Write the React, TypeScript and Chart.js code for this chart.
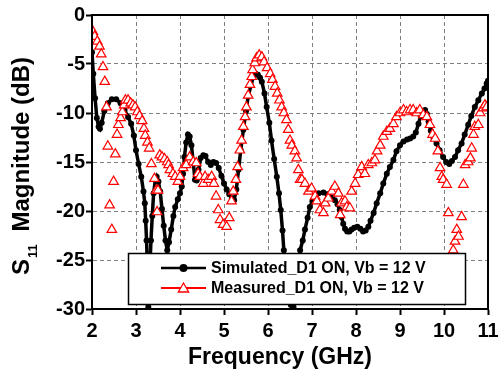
import React, { useEffect, useRef } from 'react';
import { Chart, registerables } from 'chart.js';

Chart.register(...registerables);

// ---- Data ----
const xTickValues = [2, 3, 4, 5, 6, 7, 8, 9, 10, 11];
const yTickValues = [-30, -25, -20, -15, -10, -5, 0];

const simFreq = [
  2.0, 2.03, 2.07, 2.11, 2.15, 2.18, 2.22, 2.28, 2.36, 2.45, 2.55, 2.65, 2.74, 2.82, 2.89, 2.95,
  3.0, 3.06, 3.12, 3.17, 3.2, 3.22, 3.24, 3.26, 3.28, 3.31, 3.34, 3.37, 3.4, 3.44, 3.47, 3.51,
  3.55, 3.59, 3.63, 3.67, 3.71, 3.75, 3.8, 3.85, 3.89, 3.95, 4.0, 4.04, 4.07, 4.1, 4.14, 4.18,
  4.22, 4.26, 4.3, 4.34, 4.38, 4.42, 4.47, 4.53, 4.58, 4.64, 4.7, 4.76, 4.82, 4.88, 4.94, 5.0,
  5.06, 5.12, 5.18, 5.23, 5.28, 5.33, 5.38, 5.44, 5.5, 5.55, 5.61, 5.67, 5.72, 5.77, 5.82, 5.86,
  5.92, 5.97, 6.03, 6.08, 6.14, 6.2, 6.25, 6.29, 6.33, 6.36, 6.4, 6.45, 6.52, 6.58, 6.63, 6.68,
  6.73, 6.79, 6.84, 6.9, 6.95, 7.01, 7.07, 7.15, 7.26, 7.35, 7.45, 7.52, 7.58, 7.63, 7.67, 7.71,
  7.75, 7.8, 7.85, 7.9, 7.96, 8.03, 8.1, 8.16, 8.22, 8.28, 8.33, 8.4, 8.47, 8.55, 8.62, 8.7,
  8.77, 8.85, 8.92, 9.0, 9.08, 9.16, 9.23, 9.3, 9.36, 9.42, 9.47, 9.52, 9.57, 9.61, 9.65, 9.7,
  9.76, 9.83, 9.9, 9.98, 10.05, 10.12, 10.18, 10.25, 10.32, 10.4, 10.47, 10.55, 10.62, 10.7, 10.78, 10.86,
  10.92, 10.97, 11.0,
];
const simDb = [
  -3.8, -6.0, -8.5, -10.5, -11.4, -11.6, -11.0, -9.8, -9.0, -8.6, -8.6, -9.0, -9.7, -10.4, -11.1, -12.3,
  -13.8, -15.2, -16.5, -18.0, -19.2, -21.0, -23.0, -26.0, -29.8, -26.5, -23.0, -20.5, -18.2, -16.8, -16.5, -17.0,
  -18.0, -19.8, -21.5, -23.0, -24.0, -23.2, -21.9, -20.5, -19.6, -18.8, -18.2, -17.5, -16.2, -14.5, -13.0, -12.2,
  -12.4, -13.3, -15.0, -16.8, -16.9, -15.8, -14.6, -14.3, -14.4, -15.0, -15.3, -15.0, -15.1, -15.6, -16.4, -17.2,
  -17.8, -18.3, -18.7, -18.9, -17.8, -15.8, -13.8, -11.7, -9.8, -8.3, -7.2, -6.3, -6.0, -6.1, -6.4, -6.8,
  -8.0, -9.4, -11.0, -12.8, -14.7, -16.5, -18.2, -19.9, -22.0, -24.0, -26.0, -28.0, -29.6, -29.8, -28.5, -26.0,
  -24.0, -23.0, -21.9, -20.7, -19.6, -19.0, -18.5, -18.2, -18.1, -18.3, -18.6, -18.9, -19.3, -19.9, -20.6, -21.3,
  -21.8, -22.1, -22.1, -21.9, -21.7, -21.6, -21.8, -22.1, -22.0, -21.6, -21.0, -20.2, -19.2, -18.2, -17.2, -16.2,
  -15.5, -14.8, -13.9, -13.3, -12.9, -12.7, -12.6, -12.4, -12.0, -11.1, -10.3, -9.8, -9.7, -10.1, -10.9, -11.8,
  -12.5, -13.1, -13.8, -14.5, -15.0, -15.2, -14.9, -14.5, -13.8, -13.1, -12.2, -11.2, -10.3, -9.4, -8.7, -8.0,
  -7.5, -7.0, -6.7,
];

const measFreq = [
  2.02, 2.06, 2.12, 2.17, 2.21, 2.25, 2.29, 2.33, 2.36, 2.4, 2.45, 2.49, 2.53, 2.57, 2.6, 2.65,
  2.69, 2.73, 2.76, 2.82, 2.88, 2.93, 2.98, 3.03, 3.08, 3.14, 3.18, 3.21, 3.26, 3.3, 3.35, 3.42,
  3.46, 3.48, 3.5, 3.54, 3.59, 3.65, 3.71, 3.74, 3.77, 3.84, 3.89, 3.95, 4.0, 4.07, 4.14, 4.22,
  4.3, 4.37, 4.41, 4.45, 4.53, 4.57, 4.64, 4.72, 4.77, 4.82, 4.87, 4.91, 4.98, 5.06, 5.12, 5.17,
  5.21, 5.27, 5.31, 5.36, 5.4, 5.44, 5.48, 5.51, 5.55, 5.59, 5.63, 5.65, 5.7, 5.74, 5.8, 5.86,
  5.91, 5.98, 6.05, 6.1, 6.16, 6.21, 6.26, 6.31, 6.36, 6.42, 6.46, 6.5, 6.54, 6.61, 6.65, 6.69,
  6.73, 6.77, 6.84, 6.92, 6.99, 7.07, 7.11, 7.18, 7.26, 7.3, 7.37, 7.45, 7.52, 7.6, 7.64, 7.67,
  7.75, 7.79, 7.86, 7.9, 7.98, 8.05, 8.13, 8.2, 8.28, 8.36, 8.43, 8.48, 8.55, 8.62, 8.7, 8.77,
  8.85, 8.92, 9.0, 9.08, 9.15, 9.23, 9.3, 9.38, 9.45, 9.53, 9.61, 9.68, 9.74, 9.8, 9.86, 9.91,
  9.95, 9.98, 10.06, 10.1, 10.21, 10.25, 10.29, 10.33, 10.4, 10.44, 10.48, 10.55, 10.6, 10.63, 10.67, 10.7,
  10.78, 10.82, 10.89, 10.93, 10.97,
];
const measDb = [
  -1.7, -2.2, -2.7, -3.2, -4.0, -5.3, -6.8, -9.4, -13.4, -19.4, -21.9, -17.0, -14.2, -12.2, -11.2, -10.5,
  -9.9, -9.2, -8.7, -8.7, -9.0, -9.2, -9.4, -9.9, -10.3, -10.8, -11.6, -12.3, -13.0, -13.6, -15.2, -16.7,
  -17.9, -20.1, -17.9, -14.3, -14.5, -14.7, -15.0, -15.3, -15.8, -16.2, -16.5, -17.0, -16.5, -15.6, -15.3, -14.5,
  -15.0, -15.1, -16.2, -16.5, -17.2, -16.5, -16.8, -16.5, -17.2, -18.5, -19.9, -20.9, -21.4, -21.6, -20.7, -19.0,
  -18.0, -16.8, -15.5, -13.8, -12.8, -11.4, -10.4, -9.4, -8.2, -7.1, -6.3, -5.6, -4.9, -4.4, -4.1, -4.3,
  -4.8, -5.4, -6.0, -6.6, -7.3, -8.0, -8.7, -9.4, -10.0, -10.7, -11.7, -12.8, -13.3, -13.9, -14.6, -15.8,
  -16.8, -16.8, -17.2, -18.0, -17.7, -18.5, -19.0, -19.9, -20.2, -19.2, -18.7, -18.0, -17.5, -18.2, -20.4, -19.2,
  -19.0, -19.6, -19.7, -18.0, -17.2, -16.3, -15.5, -16.2, -15.3, -15.1, -14.8, -13.9, -13.3, -12.4, -11.9, -11.6,
  -11.1, -10.4, -10.0, -9.7, -9.9, -9.7, -9.7, -10.0, -9.7, -10.2, -10.4, -11.2, -12.2, -12.6, -13.9, -15.6,
  -16.5, -16.8, -17.3, -20.2, -24.0, -23.1, -21.9, -22.6, -20.6, -17.3, -15.3, -15.0, -14.6, -13.6, -12.2, -11.4,
  -11.2, -10.0, -9.5, -9.2, -9.4,
];

const seriesNames = ['Simulated_D1 ON, Vb = 12 V', 'Measured_D1 ON, Vb = 12 V'];
const xTitle = 'Frequency (GHz)';
const yTitleMain = 'S';
const yTitleSub = '11';
const yTitleRest = ' Magnitude (dB)';

const FONT = "'Liberation Sans', Arial, sans-serif";

function drawTriangle(ctx: CanvasRenderingContext2D, cx: number, cy: number, r: number) {
  const c = Math.cos(Math.PI / 6) * r;
  ctx.beginPath();
  ctx.moveTo(cx, cy - r);
  ctx.lineTo(cx + c, cy + r / 2);
  ctx.lineTo(cx - c, cy + r / 2);
  ctx.closePath();
}

const decorPlugin = {
  id: 'decor',
  afterDraw(chart: any) {
    const { ctx, chartArea } = chart;
    const { left, right, top, bottom } = chartArea;
    ctx.save();
    // frame
    ctx.strokeStyle = '#000';
    ctx.lineWidth = 2;
    ctx.strokeRect(left, top, right - left, bottom - top);

    // legend box
    const lx = left + 36;
    const ly = bottom - 56;
    const lw = 338;
    const lh = 52;
    ctx.fillStyle = '#fff';
    ctx.fillRect(lx, ly, lw, lh);
    ctx.lineWidth = 1.5;
    ctx.strokeStyle = '#000';
    ctx.strokeRect(lx + 0.5, ly + 0.5, lw - 1, lh - 1);

    const sx0 = lx + 33;
    const sx1 = lx + 78;
    const sxm = (sx0 + sx1) / 2;
    const row1 = ly + 15;
    const row2 = ly + 35;
    // simulated sample
    ctx.strokeStyle = '#000';
    ctx.lineWidth = 2.5;
    ctx.beginPath();
    ctx.moveTo(sx0, row1);
    ctx.lineTo(sx1, row1);
    ctx.stroke();
    ctx.fillStyle = '#000';
    ctx.beginPath();
    ctx.arc(sxm, row1, 4, 0, Math.PI * 2);
    ctx.fill();
    // measured sample
    ctx.strokeStyle = '#ff0000';
    ctx.lineWidth = 2;
    ctx.beginPath();
    ctx.moveTo(sx0, row2);
    ctx.lineTo(sx1, row2);
    ctx.stroke();
    drawTriangle(ctx, sxm, row2 + 1, 6);
    ctx.fillStyle = '#fff';
    ctx.fill();
    ctx.lineWidth = 1.3;
    ctx.stroke();

    ctx.fillStyle = '#000';
    ctx.font = `bold 16px ${FONT}`;
    ctx.textAlign = 'left';
    ctx.textBaseline = 'middle';
    ctx.fillText(seriesNames[0], sx1 + 5, row1 + 1);
    ctx.fillText(seriesNames[1], sx1 + 5, row2 + 1);

    // x title
    ctx.font = `bold 23px ${FONT}`;
    ctx.textAlign = 'center';
    ctx.textBaseline = 'alphabetic';
    ctx.fillText(xTitle, (left + right) / 2 - 10, bottom + 55);

    // y title (rotated, with subscript)
    ctx.translate(28.5, bottom - 34);
    ctx.rotate(-Math.PI / 2);
    ctx.textAlign = 'left';
    ctx.font = `bold 24px ${FONT}`;
    ctx.fillText(yTitleMain, 0, 0);
    let w = ctx.measureText(yTitleMain).width;
    ctx.font = `bold 13px ${FONT}`;
    ctx.fillText(yTitleSub, w + 1, 8);
    w += 1 + ctx.measureText(yTitleSub).width;
    ctx.font = `bold 24px ${FONT}`;
    ctx.fillText(yTitleRest, w + 6, 0);
    ctx.restore();
  },
};

export default function App() {
  const ref = useRef<HTMLCanvasElement | null>(null);
  useEffect(() => {
    if (!ref.current) return;
    const tickFont = { family: FONT, size: 20, weight: 'bold' as const };
    const chart = new Chart(ref.current, {
      type: 'scatter',
      data: {
        datasets: [
          {
            label: seriesNames[0],
            data: simFreq.map((f, i) => ({ x: f, y: simDb[i] })),
            showLine: true,
            borderColor: '#000',
            backgroundColor: '#000',
            borderWidth: 3.5,
            pointRadius: 3,
            pointBorderWidth: 0,
            pointBackgroundColor: '#000',
            pointStyle: 'circle',
            order: 1,
          },
          {
            label: seriesNames[1],
            data: measFreq.map((f, i) => ({ x: f, y: measDb[i] })),
            showLine: false,
            borderColor: '#ff0000',
            backgroundColor: '#ffffff',
            pointStyle: 'triangle',
            pointRadius: 5.5,
            pointBorderWidth: 1.2,
            pointBorderColor: '#ff0000',
            pointBackgroundColor: '#ffffff',
            order: 0,
          },
        ],
      },
      options: {
        responsive: false,
        animation: false,
        devicePixelRatio: 1,
        layout: { padding: { left: 0, right: 16, top: 15, bottom: 0 } },
        plugins: { legend: { display: false }, tooltip: { enabled: false } },
        scales: {
          x: {
            type: 'linear',
            min: 2,
            max: 11,
            afterBuildTicks: (s: any) => {
              s.ticks = xTickValues.map((v) => ({ value: v }));
            },
            afterFit: (s: any) => {
              s.height = 62;
            },
            ticks: {
              color: '#000',
              font: tickFont,
              padding: 4,
              autoSkip: false,
              maxRotation: 0,
              callback: (v: any) => String(v),
            },
            grid: {
              color: '#808080',
              lineWidth: 1,
              drawTicks: true,
              tickLength: 6,
              tickColor: '#000',
              tickWidth: 2,
              tickBorderDash: [],
            },
            border: { display: true, color: '#000', width: 2, dash: [4, 3] },
          },
          y: {
            type: 'linear',
            min: -30,
            max: 0,
            afterBuildTicks: (s: any) => {
              s.ticks = yTickValues.map((v) => ({ value: v }));
            },
            afterFit: (s: any) => {
              s.width = 92;
            },
            ticks: {
              color: '#000',
              font: tickFont,
              padding: 1,
              autoSkip: false,
              callback: (v: any) => String(v),
            },
            grid: {
              color: '#808080',
              lineWidth: 1,
              drawTicks: true,
              tickLength: 6,
              tickColor: '#000',
              tickWidth: 2,
              tickBorderDash: [],
            },
            border: { display: true, color: '#000', width: 2, dash: [4, 3] },
          },
        },
      },
      plugins: [decorPlugin],
    });
    return () => chart.destroy();
  }, []);
  return (
    <div style={{ position: 'absolute', left: 0, top: 0, width: 504, height: 371, background: '#fff' }}>
      <canvas ref={ref} width={504} height={371} style={{ display: 'block' }} />
    </div>
  );
}
